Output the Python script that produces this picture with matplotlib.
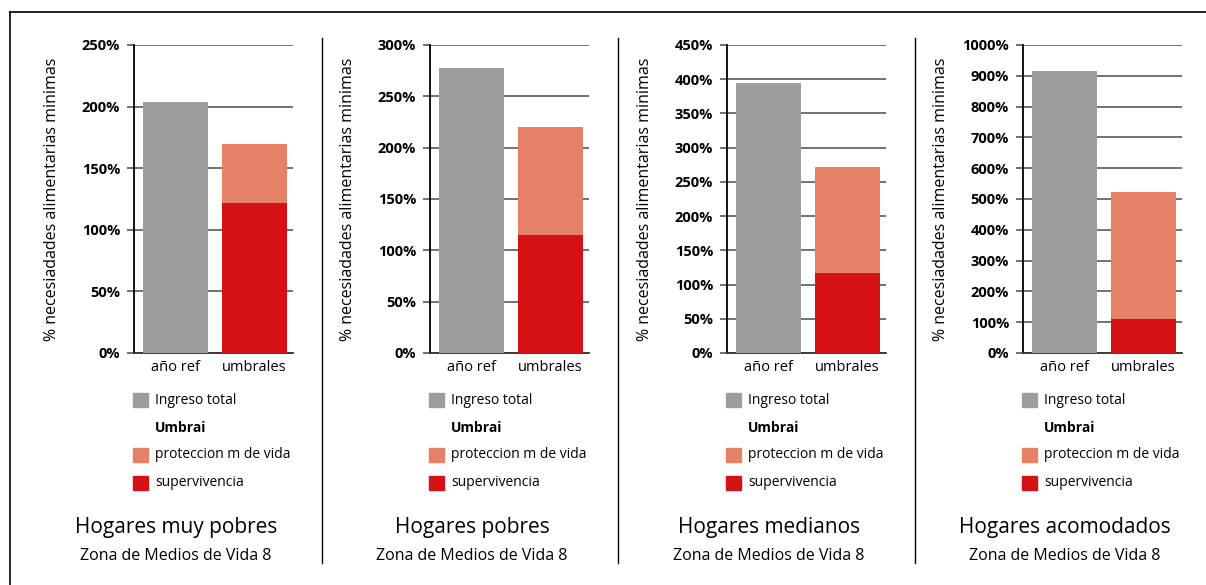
import matplotlib
matplotlib.use("Agg")
import matplotlib.pyplot as plt
from matplotlib.patches import Rectangle
from matplotlib.lines import Line2D
from matplotlib.ticker import MultipleLocator, FuncFormatter

plt.rcParams['font.family'] = ['Open Sans', 'DejaVu Sans']

# --- data ---
hogares = ["Hogares muy pobres", "Hogares pobres", "Hogares medianos", "Hogares acomodados"]
subtitulo = "Zona de Medios de Vida 8"
categorias = ["año ref", "umbrales"]
ingreso_total = [204, 278, 395, 915]
supervivencia = [122, 115, 117, 110]
proteccion = [48, 105, 155, 413]
y_max = [250, 300, 450, 1000]
y_step = [50, 50, 50, 100]

legend_items = ["Ingreso total", "Umbrai", "proteccion m de vida", "supervivencia"]

C_GRAY = '#9d9d9c'
C_SALMON = '#e68066'
C_RED = '#d51317'
C_GRID = '#666666'

W, H = 1206, 585
fig = plt.figure(figsize=(W / 100, H / 100), dpi=100)


def fx(x):
    return x / W


def fy(y):
    return 1 - y / H


# outer frame (top + left) and panel separators
fig.add_artist(Line2D([fx(10), fx(10)], [fy(12), fy(585)], color='black', lw=1.2))
fig.add_artist(Line2D([fx(10), 1], [fy(12), fy(12)], color='black', lw=1.2))
for sx in [322, 618, 915]:
    fig.add_artist(Line2D([fx(sx), fx(sx)], [fy(38), fy(563)], color='black', lw=1.0))

lefts = [134, 430, 727, 1023]
ax_w = 159
top, bottom = 45, 353

for i, L in enumerate(lefts):
    ax = fig.add_axes([fx(L), fy(bottom), ax_w / W, (bottom - top) / H])
    xs = [0, 1]
    ax.bar(xs[0], ingreso_total[i], width=0.82, color=C_GRAY, zorder=3)
    ax.bar(xs[1], supervivencia[i], width=0.82, color=C_RED, zorder=3)
    ax.bar(xs[1], proteccion[i], width=0.82, bottom=supervivencia[i], color=C_SALMON, zorder=3)

    ax.set_xlim(-0.525, 1.487)
    ax.set_ylim(0, y_max[i])
    ax.yaxis.set_major_locator(MultipleLocator(y_step[i]))
    ax.yaxis.set_major_formatter(FuncFormatter(lambda v, p: f"{v:.0f}%"))
    ax.grid(axis='y', color=C_GRID, lw=1.3, zorder=0)
    ax.set_axisbelow(True)
    for s in ['top', 'right']:
        ax.spines[s].set_visible(False)
    ax.spines['left'].set_color('black')
    ax.spines['left'].set_linewidth(1.3)
    ax.spines['bottom'].set_color('#333333')
    ax.spines['bottom'].set_linewidth(1.3)
    ax.tick_params(axis='y', length=5, width=1.3, color=C_GRID, pad=5, labelsize=10.5)
    for t in ax.get_yticklabels():
        t.set_fontweight('bold')
    ax.set_xticks(xs)
    ax.set_xticklabels(categorias, fontsize=10.5)
    ax.tick_params(axis='x', length=0, pad=5)
    ax.set_ylabel("% necesiadades alimentarias minimas", fontsize=11.5, labelpad=0)
    ax.yaxis.set_label_coords(-74 / ax_w, 0.5)

    # legend block
    rows = [400, 428, 455, 483]
    colors = [C_GRAY, None, C_SALMON, C_RED]
    for r, c, lab in zip(rows, colors, legend_items):
        if c is not None:
            fig.add_artist(Rectangle((fx(L - 1), fy(r + 7)), 15 / W, 14 / H,
                                     color=c, transform=fig.transFigure))
        fig.text(fx(L + 21), fy(r), lab, fontsize=10, va='center', ha='left',
                 fontweight='bold' if c is None else 'normal')

    fig.text(fx(L + 42), fy(528), hogares[i], fontsize=15, ha='center', va='center')
    fig.text(fx(L + 42), fy(556), subtitulo, fontsize=11.5, ha='center', va='center')

fig.savefig("out.png", dpi=100)
